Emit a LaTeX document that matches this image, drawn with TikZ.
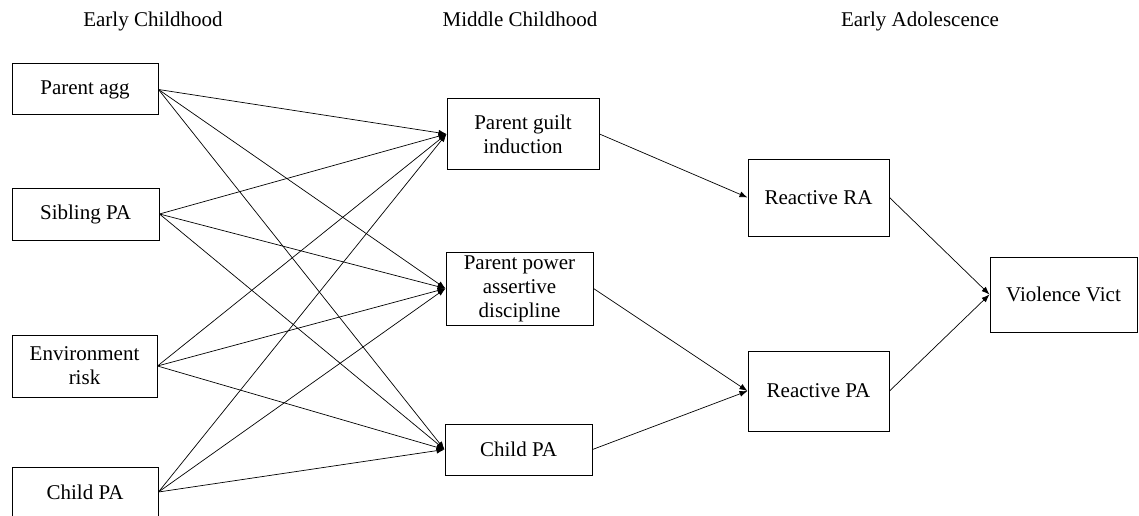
\documentclass[tikz,border=0pt]{standalone}
\usepackage{fontspec}
\setmainfont{Liberation Serif}
\usetikzlibrary{arrows.meta}
\begin{document}
\begin{tikzpicture}[x=1pt,y=-1pt,
  box/.style={draw=black, line width=1pt, inner sep=0pt, align=center,
    font=\fontsize{21}{24}\selectfont},
  hdr/.style={inner sep=0pt, anchor=base, font=\fontsize{21}{24}\selectfont},
  link/.style={line width=0.7pt, -{Latex[length=8pt,width=6pt]}}]
\useasboundingbox (0,0) rectangle (1139,516);
% headers
\node[hdr] (h1) at (153,27) {Early Childhood};
\node[hdr] (h2) at (520,27) {Middle Childhood};
\node[hdr] (h3) at (920,27) {Early Adolescence};
% left column
\node[box, minimum width=146pt, minimum height=51pt] (pagg) at (85,89.5) {Parent agg};
\node[box, minimum width=147pt, minimum height=52pt] (sib) at (85.5,214) {Sibling PA};
\node[box, minimum width=145pt, minimum height=62pt] (env) at (84.5,366) {Environment\\risk};
\node[box, minimum width=146pt, minimum height=50pt] (cpa) at (85,492) {Child PA};
% middle column
\node[box, minimum width=152pt, minimum height=70pt] (guilt) at (523,134) {Parent guilt\\induction};
\node[box, minimum width=147pt, minimum height=73pt] (power) at (519.5,288.5) {Parent power\\assertive\\discipline};
\node[box, minimum width=147pt, minimum height=51pt] (cpam) at (518.5,449.5) {Child PA};
% right column
\node[box, minimum width=141pt, minimum height=77pt] (rra) at (818.5,197.5) {Reactive RA};
\node[box, minimum width=141pt, minimum height=80pt] (rpa) at (818.5,391) {Reactive PA};
\node[box, minimum width=147pt, minimum height=75pt] (vv) at (1063.5,294.5) {Violence Vict};
% links left -> middle
\foreach \s in {pagg,sib,env,cpa}{
  \foreach \t in {guilt,power,cpam}{
    \draw[link] (\s.east) -- (\t.west);
  }
}
% middle -> right
\draw[link] (guilt.east) -- (rra.west);
\draw[link] (power.east) -- (rpa.west);
\draw[link] (cpam.east) -- (rpa.west);
% right -> outcome
\draw[link] (rra.east) -- (vv.west);
\draw[link] (rpa.east) -- (vv.west);
\end{tikzpicture}
\end{document}
